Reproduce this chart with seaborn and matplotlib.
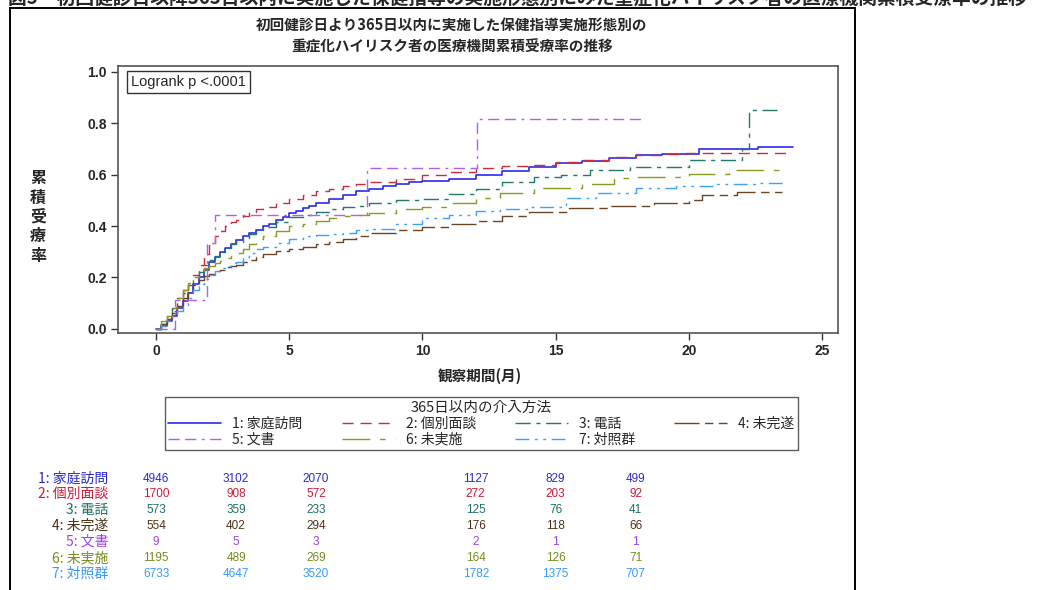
import matplotlib
matplotlib.use("Agg")
import matplotlib.pyplot as plt
import matplotlib.patches as mpatches
import matplotlib.transforms as mtransforms
from matplotlib.lines import Line2D
import seaborn as sns

# ---------------- data ----------------
group_labels = ["1: 家庭訪問", "2: 個別面談", "3: 電話", "4: 未完遂", "5: 文書", "6: 未実施", "7: 対照群"]

t1 = [0, 0.2, 0.4, 0.6, 0.8, 1.0, 1.2, 1.4, 1.6, 1.8, 2.0, 2.2, 2.4, 2.6, 2.8, 3.0, 3.25, 3.5, 3.75, 4.0,
      4.25, 4.5, 4.75, 5.0, 5.25, 5.5, 5.75, 6.0, 6.5, 7.0, 7.5, 8.0, 8.5, 9.0, 9.5, 10.0, 11.0, 12.0, 13.0,
      14.0, 15.0, 16.0, 17.0, 18.0, 19.0, 20.4, 22.6, 23.9]
v1 = [0, 0.01, 0.03, 0.05, 0.08, 0.11, 0.14, 0.175, 0.20, 0.23, 0.26, 0.28, 0.30, 0.315, 0.33, 0.345, 0.36,
      0.375, 0.385, 0.40, 0.41, 0.425, 0.435, 0.45, 0.46, 0.47, 0.48, 0.49, 0.505, 0.52, 0.535, 0.545, 0.555,
      0.565, 0.57, 0.575, 0.585, 0.60, 0.615, 0.63, 0.645, 0.655, 0.665, 0.675, 0.68, 0.70, 0.708, 0.708]

t2 = [0, 0.2, 0.4, 0.6, 0.8, 1.0, 1.2, 1.4, 1.6, 1.8, 2.0, 2.2, 2.4, 2.6, 2.8, 3.0, 3.25, 3.5, 3.75, 4.0,
      4.5, 5.0, 5.5, 6.0, 6.5, 7.0, 7.5, 8.0, 9.0, 10.0, 11.0, 12.0, 13.0, 14.0, 15.0, 16.0, 17.0, 18.0,
      19.0, 19.9, 23.7]
v2 = [0, 0.02, 0.04, 0.07, 0.11, 0.14, 0.17, 0.21, 0.25, 0.29, 0.33, 0.36, 0.38, 0.40, 0.415, 0.425, 0.44,
      0.455, 0.465, 0.475, 0.49, 0.505, 0.52, 0.535, 0.545, 0.555, 0.565, 0.57, 0.585, 0.60, 0.61, 0.625,
      0.632, 0.638, 0.648, 0.658, 0.668, 0.675, 0.68, 0.685, 0.685]

t3 = [0, 0.2, 0.4, 0.6, 0.8, 1.0, 1.2, 1.4, 1.6, 1.8, 2.0, 2.2, 2.4, 2.6, 2.8, 3.0, 3.25, 3.5, 3.75, 4.0,
      4.5, 5.0, 5.5, 6.0, 6.5, 7.0, 7.5, 8.0, 9.0, 10.0, 11.0, 12.0, 13.0, 14.2, 15.2, 16.3, 17.8, 20.0,
      22.0, 22.26, 23.3]
v3 = [0, 0.02, 0.05, 0.08, 0.12, 0.15, 0.17, 0.19, 0.22, 0.25, 0.27, 0.285, 0.30, 0.315, 0.33, 0.34, 0.355,
      0.37, 0.385, 0.395, 0.415, 0.435, 0.445, 0.455, 0.465, 0.475, 0.48, 0.49, 0.50, 0.505, 0.525, 0.545,
      0.57, 0.59, 0.60, 0.62, 0.63, 0.657, 0.70, 0.852, 0.852]

t4 = [0, 0.2, 0.4, 0.6, 0.8, 1.0, 1.2, 1.4, 1.6, 1.8, 2.0, 2.2, 2.4, 2.6, 2.8, 3.0, 3.25, 3.5, 3.75, 4.0,
      4.5, 5.0, 5.5, 6.0, 6.5, 7.0, 7.5, 8.0, 9.0, 10.0, 11.0, 12.0, 13.0, 14.0, 15.5, 17.0, 18.7, 20.0,
      20.5, 21.8, 23.5]
v4 = [0, 0.02, 0.04, 0.06, 0.09, 0.12, 0.15, 0.17, 0.19, 0.205, 0.215, 0.225, 0.23, 0.24, 0.245, 0.25, 0.26,
      0.27, 0.28, 0.29, 0.305, 0.31, 0.32, 0.33, 0.34, 0.35, 0.36, 0.375, 0.385, 0.395, 0.41, 0.42, 0.44,
      0.455, 0.47, 0.48, 0.49, 0.50, 0.52, 0.533, 0.533]

t5 = [0, 0.7, 1.9, 2.2, 7.9, 12.05, 18.2]
v5 = [0, 0.111, 0.333, 0.444, 0.626, 0.815, 0.815]

t6 = [0, 0.2, 0.4, 0.6, 0.8, 1.0, 1.2, 1.4, 1.6, 1.8, 2.0, 2.2, 2.4, 2.6, 2.8, 3.0, 3.25, 3.5, 3.75, 4.0,
      4.5, 5.0, 5.5, 6.0, 6.5, 7.0, 7.5, 8.0, 9.0, 10.0, 11.0, 12.0, 12.9, 14.2, 16.0, 17.2, 17.8, 20.0,
      21.5, 23.7]
v6 = [0, 0.03, 0.05, 0.08, 0.12, 0.15, 0.18, 0.20, 0.22, 0.235, 0.245, 0.255, 0.265, 0.275, 0.285, 0.295,
      0.31, 0.33, 0.35, 0.36, 0.38, 0.40, 0.41, 0.42, 0.43, 0.44, 0.445, 0.45, 0.465, 0.475, 0.49, 0.51,
      0.53, 0.55, 0.565, 0.587, 0.59, 0.603, 0.62, 0.62]

t7 = [0, 0.2, 0.4, 0.6, 0.8, 1.0, 1.2, 1.4, 1.6, 1.8, 2.0, 2.2, 2.4, 2.6, 2.8, 3.0, 3.25, 3.5, 3.75, 4.0,
      4.5, 5.0, 5.5, 6.0, 6.5, 7.0, 7.5, 8.0, 9.0, 10.0, 11.0, 12.0, 12.9, 14.0, 15.4, 16.5, 18.0, 19.5,
      21.0, 22.5, 23.7]
v7 = [0, 0.01, 0.03, 0.05, 0.07, 0.09, 0.12, 0.15, 0.175, 0.195, 0.21, 0.225, 0.235, 0.245, 0.255, 0.26,
      0.28, 0.295, 0.31, 0.32, 0.335, 0.35, 0.36, 0.365, 0.37, 0.375, 0.385, 0.39, 0.41, 0.43, 0.445, 0.46,
      0.465, 0.475, 0.51, 0.53, 0.55, 0.556, 0.563, 0.568, 0.568]

risk_times = [0, 3, 6, 12, 15, 18]
risk_1 = [4946, 3102, 2070, 1127, 829, 499]
risk_2 = [1700, 908, 572, 272, 203, 92]
risk_3 = [573, 359, 233, 125, 76, 41]
risk_4 = [554, 402, 294, 176, 118, 66]
risk_5 = [9, 5, 3, 2, 1, 1]
risk_6 = [1195, 489, 269, 164, 126, 71]
risk_7 = [6733, 4647, 3520, 1782, 1375, 707]

x_ticks = [0, 5, 10, 15, 20, 25]
y_ticks = [0.0, 0.2, 0.4, 0.6, 0.8, 1.0]

# ---------------- style ----------------
sns.set_style("ticks")
plt.rcParams["font.family"] = ["Noto Sans CJK JP", "DejaVu Sans"]
plt.rcParams["lines.scale_dashes"] = False

line_colors = ["#2B2BEE", "#CC2B3E", "#1F7A6B", "#6B4423", "#B060EC", "#8A9A1E", "#3DA0FF"]
text_colors = ["#2A2ACC", "#CC1A3A", "#1F6F63", "#4A3418", "#A040E0", "#7A8A1E", "#3399FF"]
line_styles = ["-", (0, (8, 5)), (0, (11, 4, 3, 4)), (0, (18, 4, 6, 4)),
               (0, (8, 4, 8, 4, 2, 4)), (0, (20, 7, 4, 7)), (0, (10, 4, 2, 4, 2, 4))]
line_widths = [1.2, 1.0, 1.0, 1.0, 1.0, 1.0, 1.0]

W, H = 1056, 590
fig = plt.figure(figsize=(W / 100, H / 100), dpi=100)
fig.patch.set_facecolor("white")

ax = fig.add_axes([118 / W, 1 - 333 / H, 720 / W, 267 / H])

series = [(t1, v1), (t2, v2), (t3, v3), (t4, v4), (t5, v5), (t6, v6), (t7, v7)]
handles = []
for i, (t, v) in enumerate(series):
    sns.lineplot(x=t, y=v, ax=ax, color=line_colors[i], linestyle=line_styles[i],
                 linewidth=line_widths[i], drawstyle="steps-post", estimator=None, sort=False)
    handles.append(Line2D([], [], color=line_colors[i], linestyle=line_styles[i], linewidth=line_widths[i]))

ax.set_xlim(-1.43, 25.6)
ax.set_ylim(-0.016, 1.023)
ax.set_xticks(x_ticks)
ax.set_yticks(y_ticks)
ax.set_xticklabels([str(x) for x in x_ticks], fontfamily="Liberation Sans", fontweight="bold", fontsize=10)
ax.set_yticklabels([f"{y:.1f}" for y in y_ticks], fontfamily="Liberation Sans", fontweight="bold", fontsize=10)
ax.tick_params(direction="out", length=5, width=1, color="#333333", pad=3)
for s in ax.spines.values():
    s.set_visible(True)
    s.set_color("#555555")
    s.set_linewidth(1.2)
ax.set_xlabel("")
ax.set_ylabel("")

# Logrank box
ax.text(0.018, 0.94, "Logrank p <.0001", transform=ax.transAxes, fontfamily="Liberation Sans",
        fontsize=10.5, va="center", ha="left",
        bbox=dict(boxstyle="square,pad=0.3", fc="white", ec="#333333", lw=1))

# titles
fig.text(8 / W, 1 + 1.5 / H, "図5　初回健診日以降365日以内に実施した保健指導の実施形態別にみた重症化ハイリスク者の医療機関累積受療率の推移",
         ha="left", va="center", fontsize=13.5, fontweight="bold")
fig.text(452 / W, 1 - 25 / H, "初回健診日より365日以内に実施した保健指導実施形態別の",
         ha="center", va="center", fontsize=10.5, fontweight="bold")
fig.text(452 / W, 1 - 47 / H, "重症化ハイリスク者の医療機関累積受療率の推移",
         ha="center", va="center", fontsize=10.5, fontweight="bold")

# axis labels
fig.text(38 / W, 1 - 217 / H, "\n".join("累積受療率"), ha="center", va="center",
         fontsize=11.5, fontweight="bold", linespacing=1.25)
fig.text(480 / W, 1 - 376 / H, "観察期間(月)", ha="center", va="center", fontsize=10.5, fontweight="bold")

# outer frame
frame = mpatches.Rectangle((10 / W, -0.05), 845 / W, 1.05 - 8 / H, transform=fig.transFigure,
                           fill=False, ec="black", lw=1.4, clip_on=False)
fig.add_artist(frame)

# legend (row-major ordering)
order = [0, 4, 1, 5, 2, 6, 3]
leg = fig.legend([handles[i] for i in order], [group_labels[i] for i in order], ncol=4,
                 loc="upper left", bbox_to_anchor=(165 / W, 1 - 456 / H, 633 / W, 59 / H),
                 mode="expand", title="365日以内の介入方法", fontsize=10, title_fontsize=10.5,
                 frameon=True, fancybox=False, edgecolor="#333333", handlelength=3.8,
                 handletextpad=0.8, borderaxespad=0, labelspacing=0.15, borderpad=0.25)
leg.get_frame().set_linewidth(1.0)

# risk table
risk_rows = [risk_1, risk_2, risk_3, risk_4, risk_5, risk_6, risk_7]
row_y = [479, 494, 510, 526, 542, 558, 574]
trans = mtransforms.blended_transform_factory(ax.transData, fig.transFigure)
for i, row in enumerate(risk_rows):
    y = 1 - row_y[i] / H
    fig.text(108 / W, y, group_labels[i], ha="right", va="center", fontsize=10, color=text_colors[i])
    for tt, n in zip(risk_times, row):
        ax.text(tt, y, str(n), transform=trans, ha="center", va="center", fontsize=8.5,
                fontfamily="Liberation Sans", color=text_colors[i], clip_on=False)

fig.savefig("out.png", dpi=100)
